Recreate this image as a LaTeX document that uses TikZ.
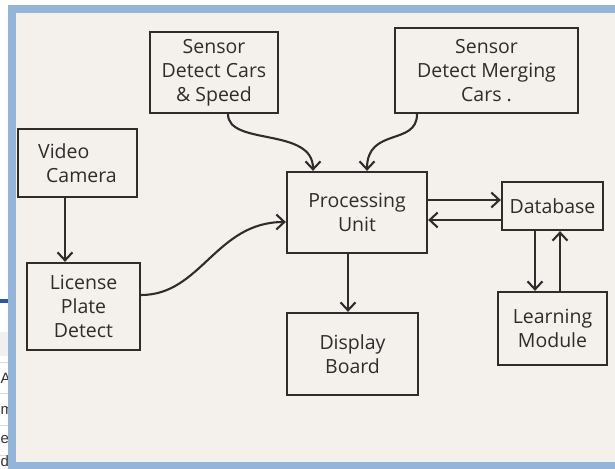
\documentclass[tikz,border=0pt]{standalone}
\usepackage{fontspec}
\setmainfont{Open Sans}
\newfontfamily\webfont{Liberation Sans}
\usetikzlibrary{arrows.meta, calc, positioning}
\definecolor{paper}{HTML}{F4F1EC}
\definecolor{ink}{HTML}{302C2C}
\definecolor{frameblue}{HTML}{94B4DA}
\definecolor{linkblue}{HTML}{2A55A0}

\begin{document}
\begin{tikzpicture}[x=1pt, y=-1pt,
    box/.style={draw=ink, line width=2.3pt, align=center, inner sep=0pt,
                font=\fontsize{19.5}{24}\selectfont, text=ink},
    flow/.style={draw=ink, line width=2.1pt, -{Straight Barb[length=8pt, width=15pt]}}]
  \useasboundingbox (0,0) rectangle (615,468);
  \clip (0,0) rectangle (615,468);

  % web page behind the photo
  \fill[white] (0,0) rectangle (615,468);
  \fill[black!6] (0,332) rectangle (10,356);
  \draw[linkblue, line width=4pt] (0,301) -- (10,301);
  \foreach \ry in {362, 393, 425, 455}
    \draw[black!15, line width=0.8pt] (0,\ry) -- (10,\ry);
  \begin{scope}
    \clip (0,0) rectangle (8,468);
    \foreach \ty/\letter in {378/A, 410/m, 440/e, 461/d}
      \node[anchor=west, inner sep=0pt, font=\webfont\fontsize{15}{15}\selectfont, text=black!80]
        (web\letter) at (0.5,\ty) {\letter};
  \end{scope}

  % the photo
  \fill[paper] (12,9) rectangle (620,466);
  \draw[frameblue, line width=8pt] (12,9) rectangle (620,466);

  \node[box, minimum width=128, minimum height=81] (sensA) at (214,72.5)
    {Sensor\\Detect Cars\\\& Speed};
  \node[box, minimum width=183, minimum height=85] (sensB) at (486.5,70.5)
    {Sensor\\Detect Merging\\Cars .};
  \node[box, minimum width=119, minimum height=68, align=left] (video) at (77.5,163)
    {Video\\\hspace*{8pt}Camera};
  \node[box, minimum width=113, minimum height=87] (plate) at (83.5,306.5)
    {License\\Plate\\Detect};
  \node[box, minimum width=140, minimum height=81] (proc) at (357,212.5)
    {Processing\\Unit};
  \node[box, minimum width=101, minimum height=48] (db) at (552.5,206)
    {Database};
  \node[box, minimum width=109, minimum height=73] (learn) at (552.5,328.5)
    {Learning\\Module};
  \node[box, minimum width=131, minimum height=82] (disp) at (352.5,354)
    {Display\\Board};

  \draw[flow] ([xshift=14pt]sensA.south) .. controls +(0,32) and +(0,-44) .. ([xshift=-44pt]proc.north);
  \draw[flow] ([xshift=-69.5pt]sensB.south) .. controls +(0,32) and +(0,-44) .. ([xshift=10pt]proc.north);
  \draw[flow] ([xshift=-12.5pt]video.south) -- ([xshift=-12.5pt]video.south |- plate.north);
  \draw[flow] ([yshift=11.5pt]plate.east) .. controls +(60,0) and +(-70,0) .. ([yshift=-9.5pt]proc.west);
  \draw[flow] ([yshift=12.5pt]proc.east) -- ([yshift=12.5pt]proc.east -| db.west);
  \draw[flow] ([yshift=-14pt]db.west) -- ([yshift=-14pt]db.west -| proc.east);
  \draw[flow] ([xshift=-17.5pt]db.south) -- ([xshift=-17.5pt]db.south |- learn.north);
  \draw[flow] ([xshift=7.5pt]learn.north) -- ([xshift=7.5pt]learn.north |- db.south);
  \draw[flow] ([xshift=-9pt]proc.south) -- ([xshift=-9pt]proc.south |- disp.north);
\end{tikzpicture}
\end{document}
